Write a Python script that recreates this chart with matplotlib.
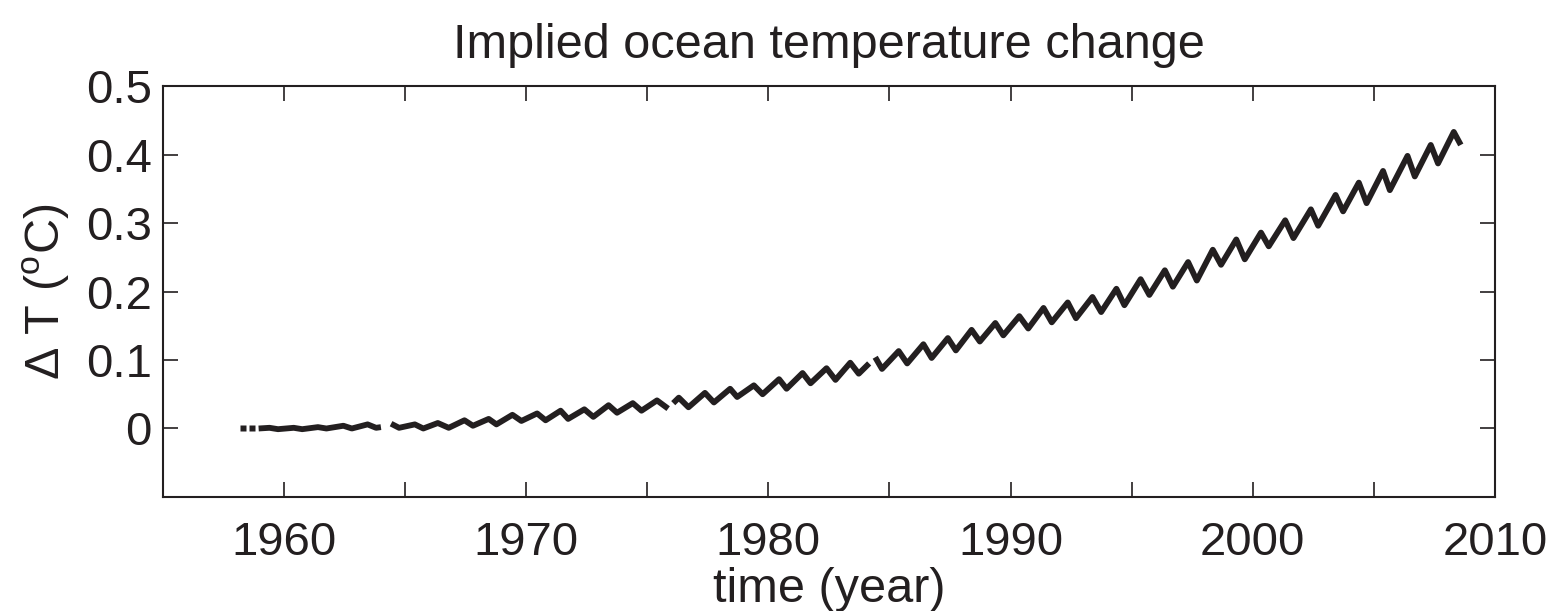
import numpy as np
import matplotlib
matplotlib.use("Agg")
import matplotlib.pyplot as plt

plt.rcParams['font.family'] = ['Liberation Sans', 'DejaVu Sans']
plt.rcParams['mathtext.fontset'] = 'custom'
plt.rcParams['mathtext.rm'] = 'Liberation Sans'

# isolated first points
seg0_years = [1958.32, 1958.66]
seg0_vals = [0.0, 0.0]

seg1_years = [1958.95, 1959.40, 1959.75, 1960.40, 1960.75, 1961.40, 1961.75,
              1962.45, 1962.80, 1963.45, 1963.80, 1964.00]
seg1_vals = [0.000, 0.001, -0.001, 0.001, -0.001, 0.002, 0.000,
             0.004, 0.000, 0.006, 0.001, 0.002]

seg2_years = [1964.42, 1964.75, 1965.40, 1965.75, 1966.35, 1966.80, 1967.45, 1967.80,
              1968.45, 1968.77, 1969.43, 1969.80, 1970.45, 1970.80, 1971.42, 1971.73,
              1972.40, 1972.77, 1973.40, 1973.75, 1974.40, 1974.76, 1975.40, 1975.86]
seg2_vals = [0.007, 0.001, 0.006, 0.000, 0.008, 0.001, 0.012, 0.004,
             0.014, 0.006, 0.020, 0.011, 0.022, 0.012, 0.026, 0.014,
             0.028, 0.017, 0.034, 0.023, 0.037, 0.026, 0.041, 0.029]

seg3_years = [1976.07, 1976.30, 1976.70, 1977.38, 1977.75, 1978.42, 1978.71,
              1979.40, 1979.76, 1980.44, 1980.75, 1981.41, 1981.74, 1982.40,
              1982.77, 1983.38, 1983.73, 1984.16]
seg3_vals = [0.037, 0.045, 0.031, 0.052, 0.038, 0.058, 0.046,
             0.063, 0.050, 0.072, 0.058, 0.081, 0.066, 0.088,
             0.071, 0.096, 0.080, 0.095]

seg4_years = [1984.41, 1984.69, 1985.38, 1985.73, 1986.40, 1986.74, 1987.41, 1987.74,
              1988.39, 1988.73, 1989.37, 1989.70, 1990.36, 1990.73, 1991.36, 1991.70,
              1992.36, 1992.70, 1993.38, 1993.74, 1994.37, 1994.70, 1995.37, 1995.73,
              1996.37, 1996.70, 1997.33, 1997.69, 1998.35, 1998.69, 1999.32, 1999.67,
              2000.34, 2000.66, 2001.34, 2001.68, 2002.40, 2002.70, 2003.42, 2003.73,
              2004.38, 2004.70, 2005.38, 2005.66, 2006.39, 2006.69, 2007.35, 2007.65,
              2008.30, 2008.59]
seg4_vals = [0.104, 0.087, 0.113, 0.095, 0.123, 0.103, 0.132, 0.114,
             0.144, 0.127, 0.154, 0.136, 0.164, 0.146, 0.176, 0.155,
             0.184, 0.161, 0.192, 0.170, 0.204, 0.180, 0.218, 0.195,
             0.231, 0.207, 0.243, 0.216, 0.261, 0.239, 0.276, 0.247,
             0.286, 0.266, 0.304, 0.278, 0.320, 0.296, 0.341, 0.317,
             0.359, 0.329, 0.376, 0.348, 0.398, 0.368, 0.414, 0.387,
             0.433, 0.414]

x_ticks = [1960, 1965, 1970, 1975, 1980, 1985, 1990, 1995, 2000, 2005, 2010]
x_labels = ['1960', '', '1970', '', '1980', '', '1990', '', '2000', '', '2010']
y_ticks = [0, 0.1, 0.2, 0.3, 0.4, 0.5]
y_labels = ['0', '0.1', '0.2', '0.3', '0.4', '0.5']

line_color = '#231f20'

fig = plt.figure(figsize=(15.49, 6.11), dpi=100)
ax = fig.add_axes([0.1052, 0.1866, 0.8599, 0.6726])

for xs, ys in [(seg1_years, seg1_vals), (seg2_years, seg2_vals),
               (seg3_years, seg3_vals), (seg4_years, seg4_vals)]:
    ax.plot(xs, ys, color=line_color, lw=4.2, solid_joinstyle='round',
            solid_capstyle='butt')
ax.plot(seg0_years, seg0_vals, linestyle='none', marker='s', ms=4.2,
        color=line_color, mec='none')

ax.set_xlim(1955, 2010)
ax.set_ylim(-0.1, 0.5)
ax.set_xticks(x_ticks)
ax.set_xticklabels(x_labels)
ax.set_yticks(y_ticks)
ax.set_yticklabels(y_labels)
ax.tick_params(direction='in', length=11, width=1.2, labelsize=34,
               top=True, right=True, colors='#231f20', pad=8)
ax.tick_params(axis='x', pad=17)
for s in ax.spines.values():
    s.set_linewidth(1.5)
    s.set_color('#231f20')

ax.set_title('Implied ocean temperature change', fontsize=35, pad=20,
             color='#231f20')
ax.set_xlabel('time (year)', fontsize=35, labelpad=2, color='#231f20')
ax.set_ylabel(r'Δ T ($^{\mathrm{o}}$C)', fontsize=35, labelpad=10,
              color='#231f20')

fig.savefig('out.png', dpi=100)
